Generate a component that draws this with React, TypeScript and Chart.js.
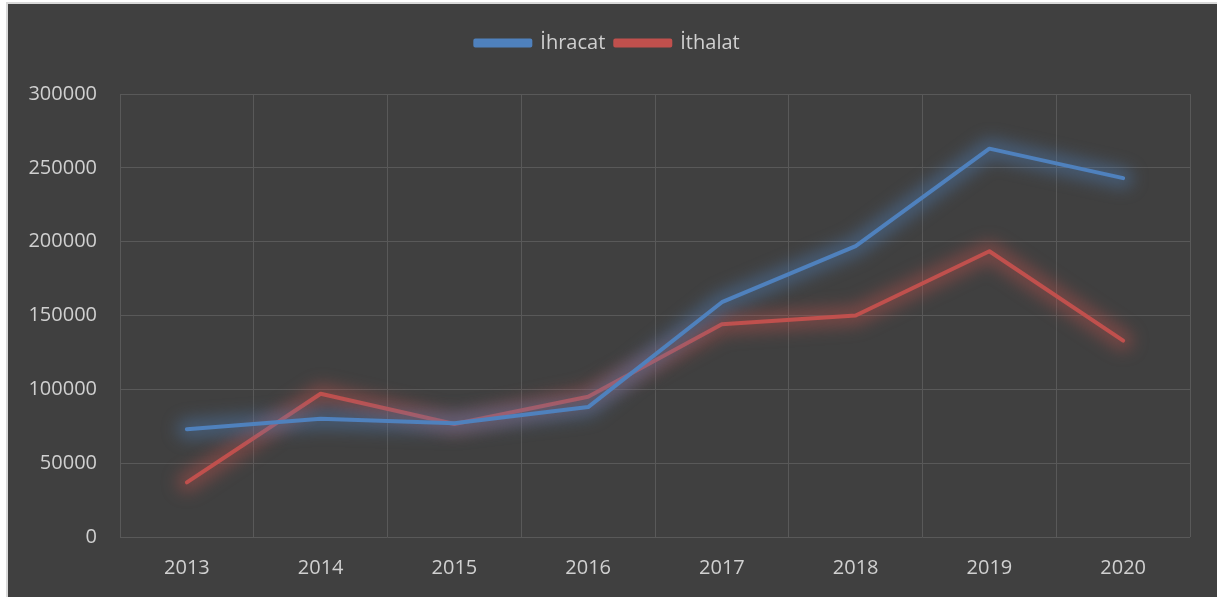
import React, { useEffect, useRef } from "react";
import { Chart, registerables } from "chart.js";

Chart.register(...registerables);

const years = ["2013", "2014", "2015", "2016", "2017", "2018", "2019", "2020"];
const ihracat = [73000, 80000, 77000, 88000, 159000, 197000, 263000, 243000];
const ithalat = [37000, 97000, 76500, 95000, 144000, 150000, 193500, 133000];
const yTicks = [0, 50000, 100000, 150000, 200000, 250000, 300000];

const BLUE = "#4f81bd";
const RED = "#c0504d";
const FONT = "'Open Sans', 'Liberation Sans', sans-serif";

const glowPlugin = {
  id: "glow",
  beforeDatasetDraw(chart: any, args: any) {
    const ctx = chart.ctx;
    const ds = chart.data.datasets[args.index];
    const pts = chart.getDatasetMeta(args.index).data;
    ctx.save();
    ctx.filter = "blur(8px)";
    ctx.strokeStyle = ds.glowColor;
    ctx.lineWidth = 20;
    ctx.lineJoin = "round";
    ctx.lineCap = "round";
    ctx.beginPath();
    pts.forEach((p: any, i: number) => {
      if (i === 0) ctx.moveTo(p.x, p.y);
      else ctx.lineTo(p.x, p.y);
    });
    ctx.stroke();
    ctx.restore();
  },
};

const legendSpacing = {
  id: "legendSpacing",
  beforeInit(chart: any) {
    const legend = chart.legend;
    if (!legend) return;
    const origFit = legend.fit;
    legend.fit = function () {
      origFit.call(this);
      this.height += 31;
    };
  },
};

export default function App() {
  const ref = useRef<HTMLCanvasElement>(null);
  useEffect(() => {
    if (!ref.current) return;
    const chart = new Chart(ref.current, {
      type: "line",
      data: {
        labels: years,
        datasets: [
          {
            label: "İhracat",
            data: ihracat,
            borderColor: BLUE,
            backgroundColor: BLUE,
            borderWidth: 4,
            pointRadius: 0,
            tension: 0,
            borderCapStyle: "round",
            borderJoinStyle: "round",
            glowColor: "rgba(79,129,189,0.42)",
          } as any,
          {
            label: "İthalat",
            data: ithalat,
            borderColor: RED,
            backgroundColor: RED,
            borderWidth: 4,
            pointRadius: 0,
            tension: 0,
            borderCapStyle: "round",
            borderJoinStyle: "round",
            glowColor: "rgba(192,80,77,0.42)",
          } as any,
        ],
      },
      options: {
        animation: false,
        responsive: true,
        maintainAspectRatio: false,
        layout: { padding: { left: 17, right: 27, top: 19, bottom: 0 } },
        plugins: {
          tooltip: { enabled: false },
          legend: {
            position: "top",
            labels: {
              color: "#d0d0d0",
              font: { family: FONT, size: 20 },
              boxWidth: 55,
              boxHeight: 5,
              padding: 10,
            },
          },
        },
        scales: {
          x: {
            offset: true,
            grid: { color: "#595959", lineWidth: 1, drawTicks: false, offset: true },
            border: { display: false },
            ticks: { color: "#d0d0d0", font: { family: FONT, size: 20 }, padding: 19 },
          },
          y: {
            min: 0,
            max: 300000,
            afterBuildTicks(axis: any) {
              axis.ticks = yTicks.map((v) => ({ value: v }));
            },
            afterFit(axis: any) {
              axis.width = 95;
            },
            grid: { color: "#595959", lineWidth: 1, drawTicks: false },
            border: { display: false },
            ticks: {
              color: "#d0d0d0",
              font: { family: FONT, size: 20 },
              padding: 23,
              callback: (v: any) => String(v),
            },
          },
        },
      },
      plugins: [glowPlugin, legendSpacing],
    });
    return () => chart.destroy();
  }, []);

  return (
    <div
      style={{
        position: "fixed",
        left: 6,
        top: 2,
        width: 1209,
        height: 595,
        background: "#404040",
        borderLeft: "2px solid #d9d9d9",
        borderTop: "2px solid #d9d9d9",
      }}
    >
      <canvas ref={ref} />
    </div>
  );
}
